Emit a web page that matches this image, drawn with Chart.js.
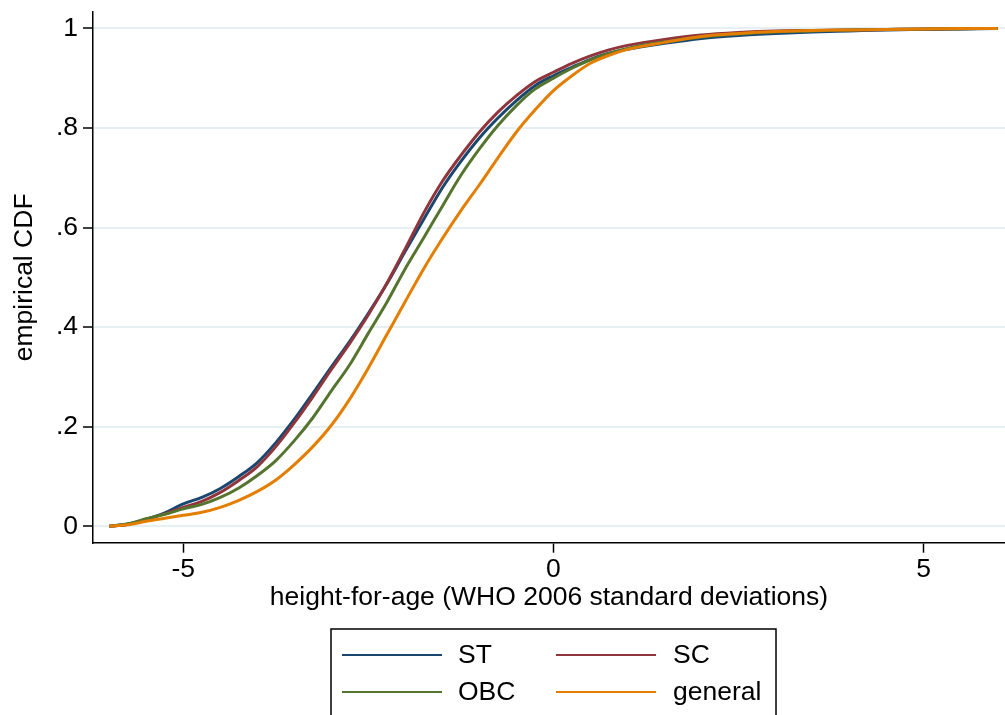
<!DOCTYPE html>
<html>
<head>
<meta charset="utf-8">
<script src="https://cdn.jsdelivr.net/npm/chart.js@4.4.1/dist/chart.umd.min.js"></script>
<style>
  html, body { margin: 0; padding: 0; background: #fff; }
  #wrap { width: 1005px; height: 715px; }
</style>
</head>
<body>
<div id="wrap"><canvas id="cdfChart" width="1005" height="715"></canvas></div>
<script>
// === DATA ===
const hazValues = [-6, -5.75, -5.5, -5.25, -5, -4.75, -4.5, -4.25, -4, -3.75, -3.5, -3.25, -3, -2.75, -2.5, -2.25, -2, -1.75, -1.5, -1.25, -1, -0.75, -0.5, -0.25, 0, 0.25, 0.5, 0.75, 1, 1.5, 2, 2.5, 3, 3.5, 4, 4.5, 5, 5.5, 6];
const stCdf      = [0, 0.004, 0.014, 0.027, 0.045, 0.058, 0.076, 0.100, 0.128, 0.168, 0.215, 0.267, 0.320, 0.372, 0.428, 0.487, 0.553, 0.617, 0.680, 0.733, 0.780, 0.820, 0.855, 0.885, 0.905, 0.922, 0.938, 0.950, 0.958, 0.970, 0.980, 0.986, 0.990, 0.993, 0.995, 0.997, 0.998, 0.999, 1];
const scCdf      = [0, 0.004, 0.014, 0.025, 0.038, 0.050, 0.068, 0.092, 0.120, 0.160, 0.208, 0.260, 0.315, 0.368, 0.425, 0.488, 0.558, 0.630, 0.693, 0.745, 0.792, 0.832, 0.865, 0.893, 0.912, 0.930, 0.945, 0.957, 0.966, 0.978, 0.987, 0.992, 0.995, 0.996, 0.997, 0.998, 0.999, 0.9995, 1];
const obcCdf     = [0, 0.005, 0.015, 0.024, 0.035, 0.044, 0.058, 0.077, 0.102, 0.132, 0.172, 0.218, 0.272, 0.325, 0.388, 0.450, 0.518, 0.580, 0.643, 0.705, 0.758, 0.805, 0.845, 0.878, 0.900, 0.920, 0.937, 0.950, 0.960, 0.973, 0.983, 0.989, 0.993, 0.995, 0.997, 0.998, 0.999, 0.9995, 1];
const generalCdf = [0, 0.003, 0.010, 0.016, 0.022, 0.028, 0.038, 0.052, 0.070, 0.093, 0.124, 0.160, 0.203, 0.256, 0.318, 0.385, 0.452, 0.518, 0.578, 0.634, 0.686, 0.740, 0.792, 0.836, 0.875, 0.905, 0.930, 0.946, 0.958, 0.972, 0.984, 0.990, 0.994, 0.996, 0.997, 0.998, 0.999, 1, 1];

const seriesNames  = ["ST", "SC", "OBC", "general"];
const seriesColors = ["#1a476f", "#90353b", "#55752f", "#e37e00"];
const xTickValues  = [-5, 0, 5];
const yTickValues  = [0, 0.2, 0.4, 0.6, 0.8, 1];
const yTickLabels  = ["0", ".2", ".4", ".6", ".8", "1"];

const FONT = "'Liberation Sans', Arial, sans-serif";
const FONT_SIZE = 26.5;

function toPoints(ys) {
  return hazValues.map((x, i) => ({ x: x, y: ys[i] }));
}

// === LEGEND (boxed, two columns, drawn on the canvas) ===
const boxLegend = {
  id: "boxLegend",
  afterDraw(chart) {
    const ctx = chart.ctx;
    ctx.save();
    ctx.strokeStyle = "#000";
    ctx.lineWidth = 1.5;
    ctx.strokeRect(331, 629, 445, 100);

    const cols = [{ x0: 342, x1: 442, tx: 458 }, { x0: 556, x1: 656, tx: 673 }];
    const rows = [655, 692];
    ctx.font = FONT_SIZE + "px " + FONT;
    ctx.textBaseline = "middle";
    ctx.textAlign = "left";
    chart.data.datasets.forEach((ds, i) => {
      const c = cols[i % 2];
      const y = rows[Math.floor(i / 2)];
      ctx.strokeStyle = ds.borderColor;
      ctx.lineWidth = 2;
      ctx.beginPath();
      ctx.moveTo(c.x0, y);
      ctx.lineTo(c.x1, y);
      ctx.stroke();
      ctx.fillStyle = "#000";
      ctx.fillText(ds.label, c.tx, y + 1);
    });
    ctx.restore();
  }
};

// === CDF CHART ===
const ctx = document.getElementById("cdfChart").getContext("2d");
const dataCols = [stCdf, scCdf, obcCdf, generalCdf];

new Chart(ctx, {
  type: "line",
  data: {
    datasets: seriesNames.map((name, i) => ({
      label: name,
      data: toPoints(dataCols[i]),
      borderColor: seriesColors[i],
      backgroundColor: seriesColors[i],
      borderWidth: 3,
      pointRadius: 0,
      fill: false,
      cubicInterpolationMode: "monotone",
      order: seriesNames.length - 1 - i
    }))
  },
  options: {
    responsive: false,
    animation: false,
    events: [],
    layout: { padding: { top: 12, left: 0, right: 0, bottom: 0 } },
    plugins: {
      legend: { display: false },
      tooltip: { enabled: false }
    },
    scales: {
      x: {
        type: "linear",
        min: -6.22,
        max: 6.10,
        afterFit: s => { s.height = 172.3; s.paddingLeft = 0; s.paddingRight = 0; },
        afterBuildTicks: s => { s.ticks = xTickValues.map(v => ({ value: v })); },
        grid: { drawOnChartArea: false, tickLength: 10, tickColor: "#000", tickWidth: 1.5 },
        border: { color: "#000", width: 1.5 },
        ticks: {
          color: "#000",
          padding: 1,
          maxRotation: 0,
          font: { family: FONT, size: FONT_SIZE },
          callback: v => String(v)
        },
        title: {
          display: true,
          text: "height-for-age (WHO 2006 standard deviations)",
          color: "#000",
          font: { family: FONT, size: FONT_SIZE },
          padding: { top: 0, bottom: 101 }
        }
      },
      y: {
        type: "linear",
        min: -0.033,
        max: 1.033,
        afterFit: s => { s.width = 93; s.paddingTop = 0; s.paddingBottom = 0; },
        afterBuildTicks: s => { s.ticks = yTickValues.map(v => ({ value: v })); },
        grid: { color: "#e6eff1", lineWidth: 2, tickLength: 10, tickColor: "#000", tickWidth: 1.5 },
        border: { color: "#000", width: 1.5 },
        ticks: {
          color: "#000",
          padding: 5,
          font: { family: FONT, size: FONT_SIZE },
          callback: (v, i) => yTickLabels[i]
        },
        title: {
          display: true,
          text: "empirical CDF",
          color: "#000",
          font: { family: FONT, size: FONT_SIZE },
          padding: { top: 9, bottom: 0 }
        }
      }
    }
  },
  plugins: [boxLegend]
});
</script>
</body>
</html>
